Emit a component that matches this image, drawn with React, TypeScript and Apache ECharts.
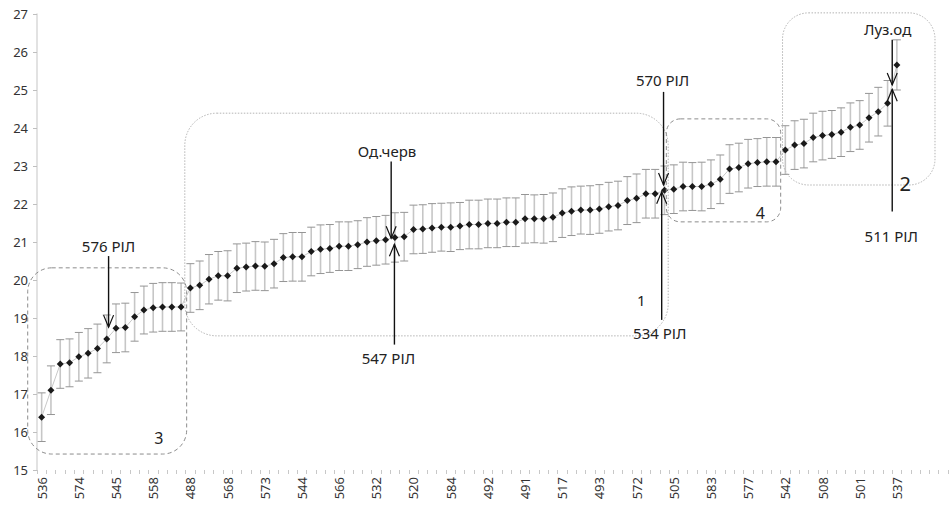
import React, { useEffect, useRef } from "react";
import * as echarts from "echarts";

// x-axis tick labels (one label every 4th category)
const tickLabels = [
  "536", "574", "545", "558", "488", "568", "573", "544", "566", "532", "520", "584",
  "492", "491", "517", "493", "572", "505", "583", "577", "542", "508", "501", "537",
];

const TOTAL_CATEGORIES = 98;

// mean values per line
const means = [
  16.39, 17.1, 17.79, 17.82, 17.98, 18.07, 18.2, 18.45, 18.73, 18.75,
  19.03, 19.21, 19.27, 19.29, 19.29, 19.29, 19.79, 19.86, 20.02, 20.11,
  20.11, 20.31, 20.34, 20.37, 20.36, 20.43, 20.59, 20.61, 20.61, 20.75,
  20.81, 20.83, 20.89, 20.89, 20.93, 21.0, 21.03, 21.06, 21.12, 21.14,
  21.33, 21.34, 21.37, 21.39, 21.39, 21.42, 21.46, 21.46, 21.49, 21.49,
  21.52, 21.52, 21.61, 21.61, 21.61, 21.65, 21.76, 21.81, 21.84, 21.84,
  21.87, 21.93, 21.96, 22.09, 22.15, 22.27, 22.27, 22.36, 22.39, 22.46,
  22.46, 22.46, 22.52, 22.65, 22.92, 22.96, 23.06, 23.09, 23.11, 23.11,
  23.42, 23.55, 23.59, 23.75, 23.8, 23.83, 23.89, 24.02, 24.08, 24.27,
  24.43, 24.65, 25.66,
];

// error (half-width of error bar)
const errors = [
  0.64, 0.64, 0.64, 0.63, 0.64, 0.65, 0.64, 0.63, 0.64, 0.64,
  0.64, 0.63, 0.64, 0.64, 0.64, 0.63, 0.64, 0.64, 0.65, 0.64,
  0.66, 0.64, 0.63, 0.64, 0.64, 0.64, 0.63, 0.64, 0.64, 0.64,
  0.64, 0.63, 0.64, 0.64, 0.63, 0.64, 0.64, 0.64, 0.65, 0.64,
  0.64, 0.64, 0.64, 0.63, 0.64, 0.62, 0.64, 0.64, 0.64, 0.64,
  0.64, 0.64, 0.64, 0.63, 0.64, 0.64, 0.64, 0.64, 0.63, 0.64,
  0.64, 0.64, 0.64, 0.63, 0.64, 0.64, 0.64, 0.64, 0.64, 0.64,
  0.63, 0.64, 0.64, 0.64, 0.64, 0.64, 0.64, 0.63, 0.64, 0.64,
  0.64, 0.64, 0.64, 0.64, 0.64, 0.63, 0.64, 0.64, 0.64, 0.64,
  0.64, 0.6, 0.66,
];

// annotation boxes in data space (category index, value)
const boxes = [
  { x0: 15.4, x1: 67.4, yTop: 24.39, yBot: 18.53, r: 32, dash: "dotted", label: "1", lx: 64.5, lv: 19.47, fs: 15 },
  { x0: 79.7, x1: 96.1, yTop: 27.03, yBot: 22.5, r: 26, dash: "dotted", label: "2", lx: 92.9, lv: 22.55, fs: 20 },
  { x0: -1.5, x1: 15.6, yTop: 20.32, yBot: 15.42, r: 24, dash: "dashed", label: "3", lx: 12.6, lv: 15.84, fs: 16 },
  { x0: 67.2, x1: 79.5, yTop: 24.24, yBot: 21.53, r: 14, dash: "dashed", label: "4", lx: 77.3, lv: 21.76, fs: 16 },
];

// arrows: category position, start value, tip value, text, text position
const arrows = [
  { i: 7.2, from: 20.63, to: 18.76, text: "576 РІЛ", ti: 7.2, tv: 20.9 },
  { i: 37.6, from: 23.12, to: 21.1, text: "Од.черв", ti: 37.15, tv: 23.4 },
  { i: 37.95, from: 18.3, to: 20.94, text: "547 РІЛ", ti: 37.3, tv: 17.95 },
  { i: 66.9, from: 24.95, to: 22.5, text: "570 РІЛ", ti: 66.8, tv: 25.27 },
  { i: 66.7, from: 18.95, to: 22.32, text: "534 РІЛ", ti: 66.5, tv: 18.6 },
  { i: 91.5, from: 26.32, to: 25.13, text: "Луз.од", ti: 91.0, tv: 26.6 },
  { i: 91.5, from: 21.8, to: 25.02, text: "511 РІЛ", ti: 91.4, tv: 21.15 },
];

const FONT = "Noto Sans";

export default function App() {
  const ref = useRef<HTMLDivElement>(null);

  useEffect(() => {
    if (!ref.current) return;
    const chart = echarts.init(ref.current, undefined, { renderer: "svg" });

    const categories = Array.from({ length: TOTAL_CATEGORIES }, (_, i) =>
      i % 4 === 0 && tickLabels[i / 4] !== undefined ? tickLabels[i / 4] : ""
    );

    const errData = means.map((m, i) => [i, m - errors[i], m + errors[i]]);

    chart.setOption({
      animation: false,
      backgroundColor: "#ffffff",
      grid: { left: 37, right: 2, top: 14, bottom: 39, containLabel: false },
      xAxis: {
        type: "category",
        data: categories,
        boundaryGap: true,
        axisLine: { show: false },
        axisTick: { show: true, interval: 0, length: 4, lineStyle: { color: "#c8c8c8", width: 1 } },
        axisLabel: {
          interval: 3,
          rotate: 90,
          fontSize: 13,
          fontFamily: FONT,
          color: "#333",
          margin: 7,
        },
        splitLine: { show: false },
      },
      yAxis: {
        type: "value",
        min: 15,
        max: 27,
        interval: 1,
        axisLine: { show: true, lineStyle: { color: "#d9d9d9", width: 1.5 } },
        axisTick: { show: true, length: 4, lineStyle: { color: "#bfbfbf" } },
        axisLabel: { fontSize: 13, fontFamily: FONT, color: "#333", margin: 9 },
        splitLine: { show: false },
      },
      series: [
        {
          type: "custom",
          silent: true,
          z: 1,
          renderItem: (_params: any, api: any) => {
            const i = api.value(0);
            const lo = api.value(1);
            const hi = api.value(2);
            const top = api.coord([i, hi]);
            const bot = api.coord([i, lo]);
            const cw = 4;
            return {
              type: "group",
              children: [
                {
                  type: "line",
                  shape: { x1: top[0], y1: top[1], x2: bot[0], y2: bot[1] },
                  style: { stroke: "#c6c6c6", lineWidth: 1.6 },
                },
                {
                  type: "line",
                  shape: { x1: top[0] - cw, y1: top[1], x2: top[0] + cw, y2: top[1] },
                  style: { stroke: "#959595", lineWidth: 1 },
                },
                {
                  type: "line",
                  shape: { x1: bot[0] - cw, y1: bot[1], x2: bot[0] + cw, y2: bot[1] },
                  style: { stroke: "#959595", lineWidth: 1 },
                },
              ],
            };
          },
          encode: { x: 0, y: [1, 2] },
          data: errData,
        },
        {
          type: "line",
          z: 3,
          data: means,
          symbol: "diamond",
          symbolSize: 7,
          showSymbol: true,
          showAllSymbol: true,
          lineStyle: { color: "#c8c8c8", width: 1 },
          itemStyle: { color: "#1a1a1a" },
        },
      ],
    });

    const x0 = chart.convertToPixel({ xAxisIndex: 0 }, 0) as number;
    const x1 = chart.convertToPixel({ xAxisIndex: 0 }, 1) as number;
    const xAt = (i: number) => x0 + (x1 - x0) * i;
    const yAt = (v: number) => chart.convertToPixel({ yAxisIndex: 0 }, v) as number;

    const graphics: any[] = [];
    boxes.forEach((b) => {
      const left = xAt(b.x0);
      const right = xAt(b.x1);
      const top = yAt(b.yTop);
      const bot = yAt(b.yBot);
      graphics.push({
        type: "rect",
        silent: true,
        z: 5,
        shape: { x: left, y: top, width: right - left, height: bot - top, r: b.r },
        style: {
          fill: "none",
          stroke: b.dash === "dotted" ? "#b4b4b4" : "#8c8c8c",
          lineWidth: 1,
          lineDash: b.dash === "dotted" ? [1.5, 1.5] : [4, 3],
        },
      });
      graphics.push({
        type: "text",
        silent: true,
        z: 6,
        x: xAt(b.lx),
        y: yAt(b.lv),
        style: {
          text: b.label,
          fontSize: b.fs,
          fontFamily: FONT,
          fill: "#222",
          align: "center",
          verticalAlign: "middle",
        },
      });
    });

    arrows.forEach((a) => {
      const x = xAt(a.i);
      const ys = yAt(a.from);
      const yt = yAt(a.to);
      const dir = yt > ys ? 1 : -1; // 1 = pointing down
      const headLen = 12;
      const headHalf = 5;
      graphics.push({
        type: "line",
        silent: true,
        z: 7,
        shape: { x1: x, y1: ys, x2: x, y2: yt },
        style: { stroke: "#111", lineWidth: 1.4 },
      });
      graphics.push({
        type: "polyline",
        silent: true,
        z: 7,
        shape: {
          points: [
            [x - headHalf, yt - dir * headLen],
            [x, yt],
            [x + headHalf, yt - dir * headLen],
          ],
        },
        style: { stroke: "#111", lineWidth: 1.2, fill: "none" },
      });
      graphics.push({
        type: "text",
        silent: true,
        z: 7,
        x: xAt(a.ti),
        y: yAt(a.tv),
        style: {
          text: a.text,
          fontSize: 15,
          fontFamily: FONT,
          fill: "#222",
          align: "center",
          verticalAlign: "middle",
        },
      });
    });

    chart.setOption({ graphic: graphics });

    return () => {
      chart.dispose();
    };
  }, []);

  return (
    <div
      ref={ref}
      style={{ position: "absolute", left: 0, top: 0, width: 950, height: 509, background: "#fff" }}
    />
  );
}
